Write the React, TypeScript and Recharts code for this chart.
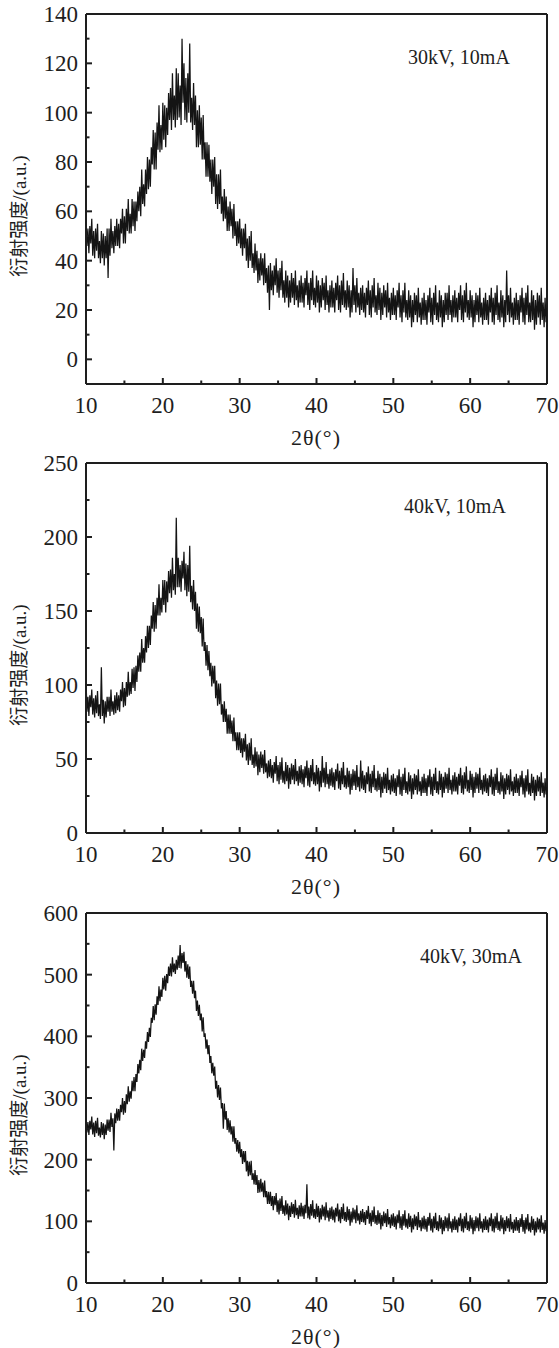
import React from 'react';
import { LineChart, Line, XAxis, YAxis, ReferenceLine } from 'recharts';

// Scan: 2θ from 10° to 70°, step 0.125° (one row below = one degree)
const X_START = 10;
const X_STEP = 0.125;

const xTicks = [10, 15, 20, 25, 30, 35, 40, 45, 50, 55, 60, 65, 70];
const xMajor = [10, 20, 30, 40, 50, 60, 70];

const intensity30kV10mA = [
  57, 46, 53, 43, 54, 47, 57, 42,
  52, 41, 53, 44, 55, 41, 48, 39,
  52, 41, 51, 38, 50, 41, 53, 33,
  53, 42, 57, 45, 52, 43, 54, 46,
  57, 46, 55, 45, 57, 51, 61, 47,
  58, 47, 61, 52, 65, 51, 59, 51,
  65, 54, 64, 52, 64, 56, 68, 60,
  70, 58, 77, 63, 71, 62, 77, 67,
  82, 69, 81, 70, 86, 79, 93, 77,
  92, 77, 96, 85, 103, 84, 95, 85,
  104, 89, 103, 86, 102, 91, 108, 97,
  110, 93, 116, 97, 107, 94, 118, 97,
  116, 98, 111, 95, 130, 104, 120, 97,
  114, 96, 116, 100, 128, 96, 106, 93,
  112, 95, 107, 86, 101, 86, 103, 87,
  98, 81, 99, 81, 88, 74, 88, 74,
  87, 72, 81, 67, 81, 70, 82, 63,
  75, 61, 75, 63, 77, 59, 66, 56,
  69, 57, 66, 52, 62, 52, 64, 54,
  61, 49, 63, 50, 56, 46, 56, 47,
  57, 45, 53, 42, 53, 45, 55, 40,
  49, 37, 50, 40, 52, 37, 43, 35,
  47, 36, 44, 31, 41, 32, 43, 34,
  41, 30, 43, 31, 37, 27, 38, 20,
  39, 28, 36, 26, 38, 30, 41, 27,
  36, 25, 37, 28, 40, 25, 32, 23,
  36, 25, 34, 21, 32, 23, 35, 25,
  33, 22, 36, 24, 30, 21, 32, 23,
  34, 23, 31, 21, 33, 26, 36, 22,
  31, 20, 33, 24, 36, 22, 29, 21,
  34, 23, 32, 19, 30, 21, 33, 24,
  31, 20, 34, 22, 28, 19, 30, 21,
  32, 21, 29, 19, 31, 24, 34, 20,
  30, 19, 32, 22, 35, 21, 28, 20,
  32, 21, 30, 17, 28, 19, 37, 22,
  30, 19, 33, 21, 27, 18, 29, 20,
  30, 19, 27, 17, 29, 22, 32, 18,
  28, 17, 30, 21, 33, 19, 26, 18,
  31, 20, 29, 16, 27, 18, 30, 21,
  28, 17, 31, 19, 25, 16, 27, 18,
  29, 18, 26, 16, 28, 21, 31, 17,
  26, 15, 28, 19, 31, 17, 24, 16,
  28, 17, 26, 13, 24, 15, 27, 18,
  26, 15, 29, 17, 23, 14, 25, 16,
  27, 16, 24, 14, 26, 19, 29, 15,
  25, 14, 27, 18, 30, 16, 23, 15,
  28, 17, 26, 13, 24, 15, 27, 18,
  27, 16, 30, 18, 24, 15, 26, 17,
  28, 17, 25, 15, 27, 20, 30, 16,
  26, 15, 28, 19, 31, 17, 24, 16,
  28, 17, 26, 13, 24, 15, 27, 18,
  26, 15, 29, 17, 23, 14, 25, 16,
  27, 16, 24, 14, 26, 19, 29, 15,
  25, 14, 27, 18, 30, 16, 23, 15,
  28, 17, 26, 13, 24, 15, 36, 18,
  26, 15, 29, 17, 23, 14, 25, 16,
  27, 16, 24, 14, 26, 19, 29, 15,
  25, 14, 27, 18, 30, 15, 23, 15,
  28, 16, 26, 12, 24, 14, 27, 17,
  26, 14, 29, 16, 23, 13, 25, 15,
  21,
];

const intensity40kV10mA = [
  104, 82, 92, 79, 93, 85, 97, 80,
  91, 78, 93, 81, 96, 79, 87, 77,
  112, 79, 90, 74, 89, 78, 92, 82,
  92, 79, 97, 82, 89, 80, 93, 81,
  95, 83, 93, 82, 97, 89, 102, 85,
  98, 86, 102, 92, 109, 93, 102, 94,
  111, 98, 112, 96, 113, 102, 120, 109,
  122, 109, 131, 115, 125, 115, 133, 122,
  140, 125, 140, 127, 147, 138, 156, 136,
  154, 138, 159, 147, 168, 147, 159, 149,
  171, 154, 171, 149, 170, 156, 177, 162,
  178, 159, 186, 164, 175, 161, 213, 166,
  186, 166, 181, 163, 184, 172, 190, 164,
  182, 160, 181, 163, 194, 156, 167, 151,
  171, 150, 163, 138, 155, 136, 153, 135,
  146, 126, 145, 123, 129, 113, 127, 110,
  123, 106, 115, 99, 113, 101, 113, 91,
  103, 86, 101, 87, 101, 80, 87, 75,
  89, 75, 84, 67, 80, 67, 80, 67,
  76, 62, 78, 62, 68, 56, 68, 56,
  68, 54, 64, 51, 64, 55, 67, 49,
  60, 46, 61, 49, 64, 46, 53, 44,
  58, 45, 55, 39, 53, 41, 55, 44,
  53, 40, 56, 41, 47, 37, 49, 38,
  50, 37, 46, 34, 48, 40, 52, 35,
  46, 33, 48, 36, 51, 34, 42, 33,
  48, 35, 46, 30, 44, 33, 47, 36,
  46, 33, 50, 35, 42, 32, 45, 34,
  46, 33, 43, 31, 45, 37, 49, 32,
  44, 31, 46, 35, 50, 33, 41, 32,
  46, 33, 44, 28, 42, 31, 52, 34,
  44, 31, 48, 33, 40, 30, 43, 32,
  44, 31, 41, 29, 43, 35, 47, 30,
  42, 29, 44, 33, 48, 31, 39, 30,
  44, 31, 42, 26, 40, 29, 43, 32,
  42, 29, 46, 31, 38, 28, 49, 30,
  42, 29, 39, 27, 41, 33, 45, 28,
  40, 27, 42, 31, 46, 29, 37, 28,
  42, 29, 40, 24, 38, 27, 41, 30,
  40, 27, 44, 29, 36, 26, 39, 28,
  40, 27, 37, 25, 39, 31, 43, 26,
  38, 25, 40, 29, 44, 27, 35, 26,
  41, 28, 39, 23, 37, 26, 40, 29,
  39, 26, 43, 28, 35, 25, 38, 27,
  40, 27, 37, 25, 39, 31, 43, 26,
  38, 25, 40, 29, 44, 27, 35, 26,
  42, 29, 40, 24, 38, 27, 41, 30,
  40, 27, 44, 29, 36, 26, 39, 28,
  41, 28, 38, 26, 40, 32, 44, 27,
  39, 26, 41, 30, 45, 28, 36, 27,
  42, 29, 40, 24, 38, 27, 41, 30,
  40, 27, 44, 29, 36, 26, 39, 28,
  40, 27, 37, 25, 39, 31, 43, 26,
  38, 25, 40, 29, 44, 27, 35, 26,
  41, 28, 39, 23, 37, 26, 40, 29,
  39, 26, 43, 28, 35, 25, 38, 27,
  40, 27, 37, 25, 39, 31, 42, 26,
  37, 24, 39, 28, 43, 26, 34, 25,
  40, 27, 38, 22, 36, 25, 39, 28,
  38, 25, 41, 27, 34, 24, 37, 26,
  31,
];

const intensity40kV30mA = [
  267, 244, 261, 240, 263, 249, 270, 241,
  260, 237, 263, 243, 268, 239, 252, 236,
  261, 240, 259, 233, 257, 240, 265, 247,
  265, 245, 276, 253, 267, 215, 275, 259,
  283, 263, 282, 263, 289, 277, 300, 273,
  295, 276, 306, 290, 319, 294, 311, 299,
  328, 311, 334, 311, 339, 326, 355, 340,
  362, 345, 380, 360, 378, 365, 392, 380,
  407, 391, 414, 399, 430, 422, 449, 426,
  452, 435, 465, 451, 481, 457, 476, 464,
  495, 476, 498, 474, 501, 486, 513, 498,
  518, 497, 528, 504, 518, 501, 524, 508,
  531, 511, 548, 510, 535, 519, 537, 505,
  522, 495, 517, 493, 513, 480, 490, 469,
  490, 462, 474, 441, 458, 433, 451, 426,
  437, 408, 431, 399, 405, 380, 395, 371,
  386, 357, 368, 340, 357, 336, 351, 315,
  328, 301, 321, 297, 317, 283, 292, 250,
  291, 265, 279, 248, 267, 244, 264, 241,
  254, 229, 254, 226, 235, 213, 232, 210,
  229, 204, 217, 193, 214, 196, 214, 181,
  198, 173, 197, 175, 198, 167, 178, 160,
  183, 159, 175, 146, 167, 147, 169, 148,
  163, 139, 166, 139, 149, 128, 148, 128,
  148, 125, 141, 118, 141, 126, 146, 115,
  134, 111, 137, 117, 141, 112, 126, 109,
  134, 111, 129, 102, 125, 107, 131, 112,
  128, 106, 135, 110, 122, 104, 126, 108,
  130, 108, 125, 104, 127, 113, 160, 105,
  124, 103, 128, 109, 134, 106, 120, 104,
  129, 107, 125, 98, 121, 103, 127, 108,
  124, 102, 131, 106, 118, 100, 122, 104,
  124, 102, 119, 98, 122, 108, 129, 100,
  119, 97, 123, 104, 129, 101, 115, 99,
  124, 102, 120, 93, 116, 98, 122, 103,
  119, 97, 126, 101, 113, 95, 117, 99,
  120, 98, 115, 94, 118, 104, 125, 96,
  114, 92, 118, 99, 124, 96, 110, 94,
  118, 96, 114, 87, 110, 92, 116, 97,
  113, 91, 120, 95, 107, 89, 111, 93,
  113, 91, 108, 87, 111, 97, 118, 89,
  108, 86, 112, 93, 118, 90, 104, 88,
  113, 91, 109, 82, 105, 87, 111, 92,
  108, 86, 115, 90, 102, 84, 106, 88,
  109, 87, 104, 83, 107, 93, 114, 85,
  104, 82, 108, 89, 114, 86, 100, 84,
  110, 88, 106, 79, 102, 84, 108, 89,
  106, 84, 113, 88, 100, 82, 104, 86,
  108, 86, 103, 82, 106, 92, 113, 84,
  104, 82, 108, 89, 114, 86, 100, 84,
  110, 88, 106, 79, 102, 84, 108, 89,
  106, 84, 113, 88, 100, 82, 104, 86,
  108, 86, 103, 82, 106, 92, 113, 84,
  104, 82, 108, 89, 114, 86, 100, 84,
  110, 88, 106, 79, 102, 84, 108, 89,
  105, 83, 112, 87, 99, 81, 103, 85,
  107, 85, 102, 81, 105, 91, 112, 83,
  102, 80, 106, 87, 112, 84, 98, 82,
  108, 86, 104, 77, 100, 82, 106, 87,
  104, 82, 110, 86, 98, 80, 102, 84,
  93,
];

const yTicks1 = [0, 10, 20, 30, 40, 50, 60, 70, 80, 90, 100, 110, 120, 130, 140];
const yMajor1 = [0, 20, 40, 60, 80, 100, 120, 140];
const yTicks2 = [0, 25, 50, 75, 100, 125, 150, 175, 200, 225, 250];
const yMajor2 = [0, 50, 100, 150, 200, 250];
const yTicks3 = [0, 50, 100, 150, 200, 250, 300, 350, 400, 450, 500, 550, 600];
const yMajor3 = [0, 100, 200, 300, 400, 500, 600];

const labels = ['30kV, 10mA', '40kV, 10mA', '40kV, 30mA'];
const yTitle = '衍射强度/(a.u.)';
const xTitle = '2θ(°)';

const INK = '#1e1e1e';
const SERIF = '"Liberation Serif", "Times New Roman", serif';
const CJK = '"Liberation Serif", "Noto Sans CJK SC", serif';

function toRows(values: number[]) {
  return values.map((v, i) => ({ x: X_START + i * X_STEP, y: v }));
}

const YTick = (props: any) => {
  const { x, y, payload, majors } = props;
  const isMajor = majors.includes(payload.value);
  return (
    <g>
      <line x1={x} x2={x + (isMajor ? 6 : 3.5)} y1={y} y2={y} stroke={INK} strokeWidth={2} />
      {isMajor && (
        <text x={x - 8} y={y} dy="0.35em" textAnchor="end" fontFamily={SERIF} fontSize={23} fill={INK}>
          {payload.value}
        </text>
      )}
    </g>
  );
};

const XTick = (props: any) => {
  const { x, y, payload } = props;
  const isMajor = xMajor.includes(payload.value);
  return (
    <g>
      <line x1={x} x2={x} y1={y} y2={y - (isMajor ? 6 : 3.5)} stroke={INK} strokeWidth={2} />
      {isMajor && (
        <text x={x} y={y + 29} textAnchor="middle" fontFamily={SERIF} fontSize={23} fill={INK}>
          {payload.value}
        </text>
      )}
    </g>
  );
};

type PanelProps = {
  top: number;
  values: number[];
  domain: [number, number];
  ticks: number[];
  majors: number[];
};

const Panel = ({ top, values, domain, ticks, majors }: PanelProps) => (
  <div style={{ position: 'absolute', left: 0, top }}>
    <LineChart width={559} height={440} data={toRows(values)} margin={{ top: 14, right: 12, left: 0, bottom: 0 }}>
      <XAxis
        dataKey="x"
        type="number"
        domain={[10, 70]}
        ticks={xTicks}
        interval={0}
        height={56}
        tickSize={0}
        tickMargin={0}
        tickLine={false}
        axisLine={{ stroke: INK, strokeWidth: 2 }}
        tick={<XTick />}
        allowDataOverflow
      />
      <YAxis
        type="number"
        domain={domain}
        ticks={ticks}
        interval={0}
        width={86}
        tickSize={0}
        tickMargin={0}
        tickLine={false}
        axisLine={{ stroke: INK, strokeWidth: 2 }}
        tick={<YTick majors={majors} />}
        allowDataOverflow
      />
      <ReferenceLine y={domain[1]} stroke={INK} strokeWidth={2} />
      <ReferenceLine x={70} stroke={INK} strokeWidth={2} />
      <Line
        type="linear"
        dataKey="y"
        stroke="#141414"
        strokeWidth={1.25}
        dot={false}
        isAnimationActive={false}
      />
    </LineChart>
  </div>
);

const textBase: React.CSSProperties = { position: 'absolute', whiteSpace: 'nowrap', color: INK, lineHeight: 1 };

export default function App() {
  const panels = [
    { top: 0, values: intensity30kV10mA, domain: [-10, 140] as [number, number], ticks: yTicks1, majors: yMajor1, label: labels[0], lx: 408 },
    { top: 449, values: intensity40kV10mA, domain: [0, 250] as [number, number], ticks: yTicks2, majors: yMajor2, label: labels[1], lx: 404 },
    { top: 899, values: intensity40kV30mA, domain: [0, 600] as [number, number], ticks: yTicks3, majors: yMajor3, label: labels[2], lx: 420 },
  ];
  return (
    <div style={{ position: 'absolute', left: 0, top: 0, width: 559, height: 1348, background: '#fff', overflow: 'hidden' }}>
      {panels.map((p, i) => {
        const plotTop = p.top + 14;
        const plotBottom = plotTop + 370;
        return (
          <React.Fragment key={i}>
            <Panel top={p.top} values={p.values} domain={p.domain} ticks={p.ticks} majors={p.majors} />
            <div style={{ ...textBase, left: p.lx, top: plotTop + 50 - 0.8375 * 20, fontFamily: SERIF, fontSize: 20 }}>
              {p.label}
            </div>
            <div
              style={{
                ...textBase,
                left: 216,
                width: 200,
                textAlign: 'center',
                top: plotBottom + 61 - 0.8375 * 22,
                fontFamily: SERIF,
                fontSize: 22,
                letterSpacing: 1,
              }}
            >
              {xTitle}
            </div>
            <div
              style={{
                ...textBase,
                left: 20 - 110,
                width: 220,
                height: 20,
                textAlign: 'center',
                top: plotTop + 202 - 10,
                fontFamily: CJK,
                fontSize: 19,
                lineHeight: '20px',
                transform: 'rotate(-90deg)',
                transformOrigin: '50% 50%',
              }}
            >
              {yTitle}
            </div>
          </React.Fragment>
        );
      })}
    </div>
  );
}
